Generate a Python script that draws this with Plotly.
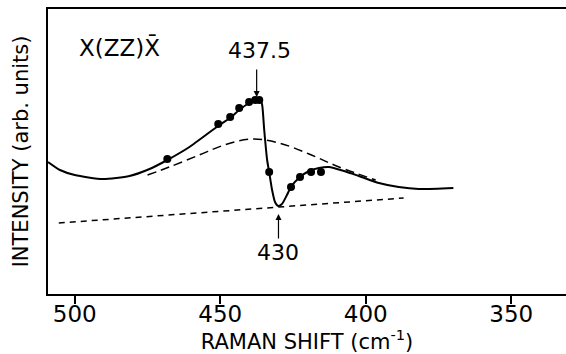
import plotly.graph_objects as go

# Raman shift (cm^-1) and intensity (arb. units)
fit_shift = [509.2, 505.1, 500.0, 490.4, 481.2, 474.3, 468.2, 460.6, 450.3, 446.2, 443.5,
             440.1, 437.3, 436.3, 435.6, 434.9, 433.9, 433.2, 432.2, 431.2, 430.1, 428.8,
             427.1, 425.7, 423.0, 419.5, 416.1, 412.7, 407.5, 402.4, 395.5, 388.7, 381.8, 369.9]
fit_int = [132, 124, 119, 115, 118, 125, 134, 147, 169, 177, 184,
           191, 195, 195, 189, 164, 134, 122, 104, 92, 88, 90,
           99, 107, 116, 123, 126, 127, 123, 118, 111, 107, 105, 106]

exp_shift = [468.2, 450.7, 446.6, 443.5, 440.1, 438.0, 436.6, 433.2, 425.7, 422.6, 418.8, 415.4]
exp_int = [135, 170, 177, 186, 192, 194, 194, 122, 107, 117, 122, 122]

broad_shift = [475.0, 467.5, 457.2, 448.6, 439.4, 429.8, 419.5, 409.2, 396.6]
broad_int = [119, 127, 139, 149, 155, 151, 140, 127, 114]

base_shift = [505.5, 387.0]
base_int = [71, 96]

tick_vals = [500, 450, 400, 350]
tick_text = ["500", "450", "400", "350"]

FONT = "DejaVu Sans"

fig = go.Figure()
fig.add_trace(go.Scatter(x=base_shift, y=base_int, mode="lines",
                         line=dict(color="black", width=1.5, dash="6px,5px")))
fig.add_trace(go.Scatter(x=broad_shift, y=broad_int, mode="lines", line_shape="spline",
                         line=dict(color="black", width=1.5, dash="9px,5px")))
fig.add_trace(go.Scatter(x=fit_shift, y=fit_int, mode="lines", line_shape="spline",
                         line=dict(color="black", width=2, smoothing=0.6)))
fig.add_trace(go.Scatter(x=exp_shift, y=exp_int, mode="markers",
                         marker=dict(color="black", size=8)))

fig.add_annotation(x=484.6, y=247, xref="x", yref="y", text="X(ZZ)X\u0304",
                   showarrow=False, font=dict(family=FONT, size=23, color="black"))
fig.add_annotation(x=436.6, y=244, xref="x", yref="y", text="437.5",
                   showarrow=False, font=dict(family=FONT, size=22, color="black"))
fig.add_annotation(x=437.5, y=197, xref="x", yref="y", text="", showarrow=True,
                   ax=437.5, ay=226, axref="x", ayref="y",
                   arrowhead=2, arrowsize=1, arrowwidth=1.2, arrowcolor="black")
fig.add_annotation(x=430, y=42, xref="x", yref="y", text="430",
                   showarrow=False, font=dict(family=FONT, size=22, color="black"))
fig.add_annotation(x=430, y=80, xref="x", yref="y", text="", showarrow=True,
                   ax=430, ay=54, axref="x", ayref="y",
                   arrowhead=2, arrowsize=1, arrowwidth=1.2, arrowcolor="black")

fig.update_layout(
    width=566, height=354,
    margin=dict(l=48, r=0, t=9, b=60),
    plot_bgcolor="white", paper_bgcolor="white",
    showlegend=False,
    font=dict(family=FONT, color="black"),
)
fig.update_xaxes(range=[509.2, 331.2], showgrid=False, zeroline=False,
                 showline=True, linecolor="black", linewidth=2, mirror=True,
                 ticks="outside", ticklen=8, tickwidth=1.5, tickcolor="black",
                 ticklabelstandoff=-10,
                 tickvals=tick_vals, ticktext=tick_text,
                 tickfont=dict(family=FONT, size=23),
                 title=dict(text="RAMAN SHIFT (cm<sup>-1</sup>)", standoff=5,
                            font=dict(family=FONT, size=21)))
fig.update_yaxes(range=[0, 285], showgrid=False, zeroline=False,
                 showline=True, linecolor="black", linewidth=2,
                 showticklabels=False, ticks="",
                 title=dict(text="INTENSITY (arb. units)", standoff=12,
                            font=dict(family=FONT, size=21)))

fig.write_html("out.html")
